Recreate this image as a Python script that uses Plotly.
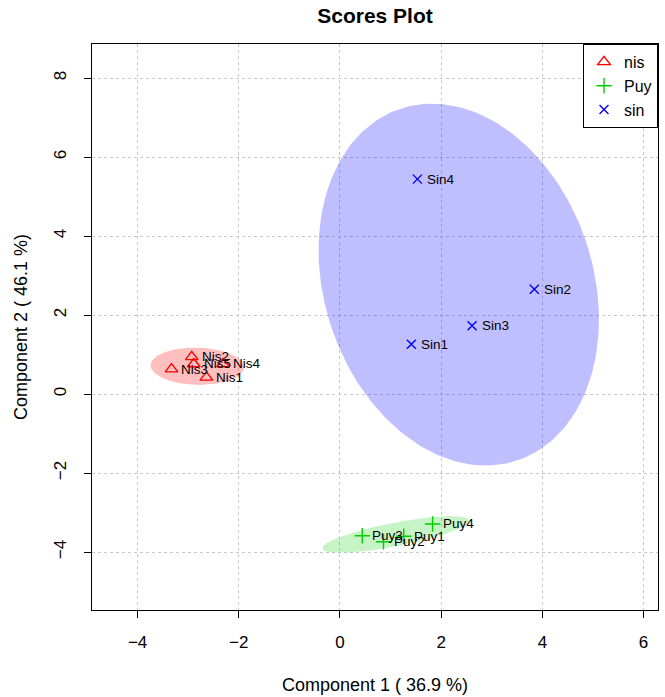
import numpy as np
import plotly.graph_objects as go

# ---- data ----
nis_names = ["Nis1", "Nis2", "Nis3", "Nis4", "Nis5"]
nis_x = [-2.64, -2.93, -3.33, -2.31, -2.89]
nis_y = [0.42, 0.94, 0.63, 0.76, 0.76]

puy_names = ["Puy1", "Puy2", "Puy3", "Puy4"]
puy_x = [1.26, 0.86, 0.44, 1.83]
puy_y = [-3.60, -3.74, -3.59, -3.29]

sin_names = ["Sin1", "Sin2", "Sin3", "Sin4"]
sin_x = [1.41, 3.84, 2.61, 1.53]
sin_y = [1.26, 2.65, 1.73, 5.44]

x_ticks = [-4, -2, 0, 2, 4, 6]
y_ticks = [-4, -2, 0, 2, 4, 6, 8]

groups = [
    ("nis", nis_names, nis_x, nis_y, "#FF0000", "rgba(255,0,0,0.25)", "triangle-up-open", 11),
    ("Puy", puy_names, puy_x, puy_y, "#00CD00", "rgba(0,205,0,0.22)", "cross-thin-open", 11),
    ("sin", sin_names, sin_x, sin_y, "#0000FF", "rgba(0,0,255,0.25)", "x-thin-open", 9),
]


def conf_ellipse(x, y, level_t=np.sqrt(5.991464547), n=200):
    pts = np.column_stack([x, y])
    c = pts.mean(axis=0)
    cov = np.cov(pts, rowvar=False)
    vals, vecs = np.linalg.eigh(cov)
    th = np.linspace(0, 2 * np.pi, n)
    circ = np.column_stack([np.cos(th), np.sin(th)])
    e = circ * (level_t * np.sqrt(np.clip(vals, 0, None))) @ vecs.T + c
    return e[:, 0], e[:, 1]


fig = go.Figure()

for name, names, xs, ys, col, fill, sym, sz in groups:
    ex, ey = conf_ellipse(xs, ys)
    fig.add_trace(go.Scatter(x=ex, y=ey, mode="lines", fill="toself",
                             fillcolor=fill, line=dict(width=0),
                             hoverinfo="skip", showlegend=False))

for name, names, xs, ys, col, fill, sym, sz in groups:
    fig.add_trace(go.Scatter(x=xs, y=ys, mode="markers", name=name,
                             marker=dict(symbol=sym, size=sz, color=col,
                                         line=dict(color=col, width=1.4))))
    for n, xv, yv in zip(names, xs, ys):
        fig.add_annotation(x=xv, y=yv, text=n, showarrow=False,
                           xanchor="left", yanchor="middle", xshift=8,
                           font=dict(size=13.5, color="black"))

fig.update_layout(
    width=665, height=697,
    margin=dict(l=92, r=7, t=44, b=87),
    paper_bgcolor="white", plot_bgcolor="white",
    font=dict(family="Liberation Sans, Arial, sans-serif", color="black", size=17),
    title=dict(text="<b>Scores Plot</b>", x=0.5, xref="paper", y=1 - 16 / 697,
               yanchor="middle", font=dict(size=21)),
    legend=dict(x=1, y=1, xanchor="right", yanchor="top",
                bordercolor="black", borderwidth=1, bgcolor="white",
                font=dict(size=16), itemwidth=30, tracegroupgap=0),
    showlegend=True,
)

fig.update_xaxes(range=[-4.901, 6.285], tickvals=x_ticks, ticks="outside", ticklen=7,
                 tickcolor="black", showline=True, linecolor="black", linewidth=1,
                 mirror=True, showgrid=True, gridcolor="#C8C8C8", griddash="dot",
                 zeroline=False, tickfont=dict(size=17), ticklabelstandoff=10,
                 title=dict(text="Component 1 ( 36.9 %)", standoff=26, font=dict(size=18)))
fig.update_yaxes(range=[-5.468, 8.861], tickvals=y_ticks, ticks="outside", ticklen=7,
                 tickcolor="black", showline=True, linecolor="black", linewidth=1,
                 mirror=True, showgrid=True, gridcolor="#C8C8C8", griddash="dot",
                 zeroline=False, tickfont=dict(size=17), tickangle=-90,
                 ticklabelstandoff=11,
                 title=dict(text="Component 2 ( 46.1 %)", standoff=18, font=dict(size=18)))

fig.write_html("out.html")
